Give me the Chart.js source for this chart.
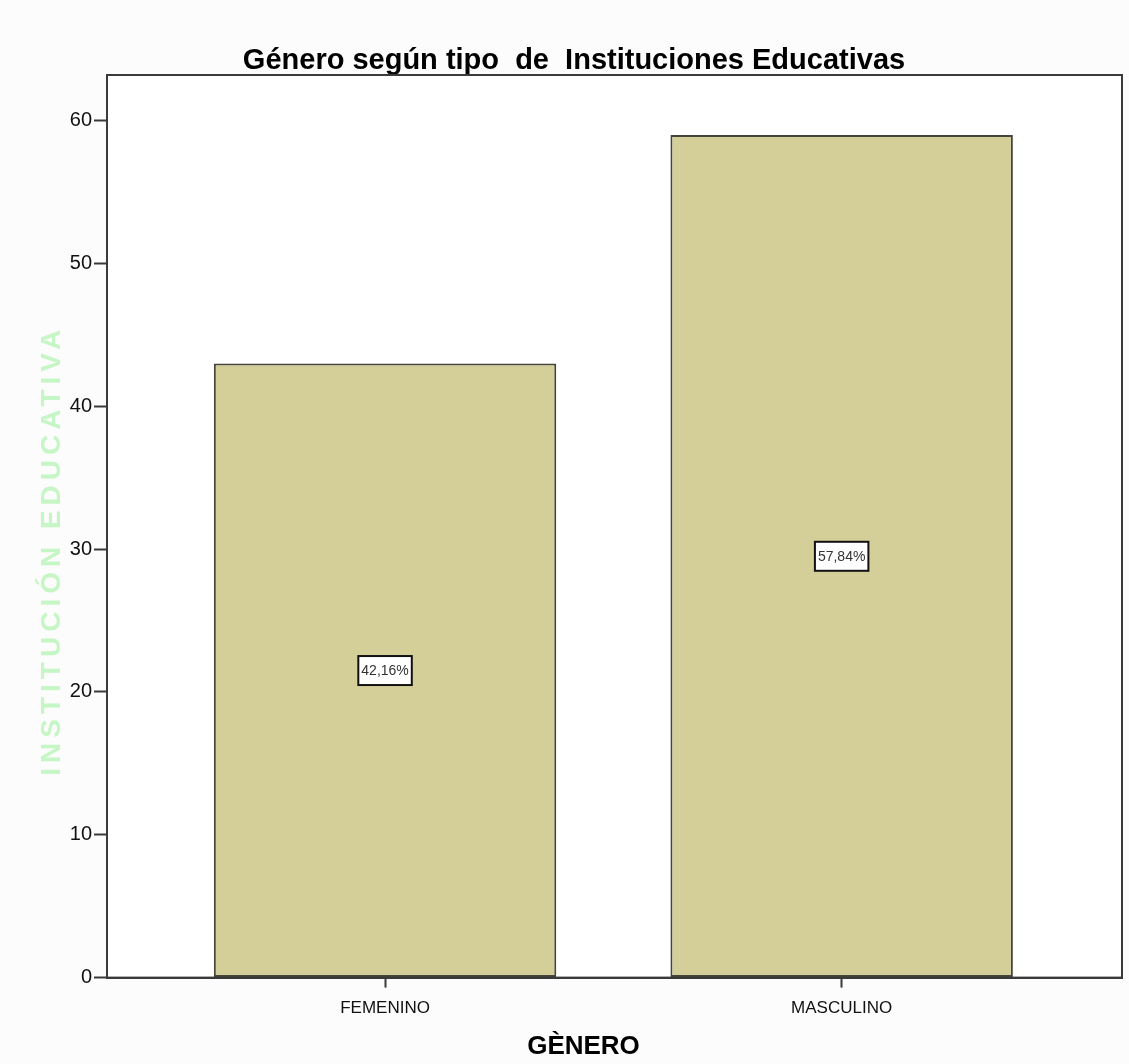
<!DOCTYPE html>
<html>
<head>
<meta charset="utf-8">
<script src="https://cdn.jsdelivr.net/npm/chart.js@4.4.0/dist/chart.umd.min.js"></script>
<style>
  html, body { margin: 0; padding: 0; background: #fcfcfc; }
  .chart-size { width: 1129px; height: 1064px; position: relative; }
</style>
</head>
<body>
<div class="chart-size"><canvas id="c"></canvas></div>
<script>
const categories = ['FEMENINO', 'MASCULINO'];
const counts = [43, 59];
const percentLabels = ['42,16%', '57,84%'];
const yTicks = [0, 10, 20, 30, 40, 50, 60];
const yTitle = 'INSTITUCIÓN EDUCATIVA';
const xTitle = 'GÈNERO';

const FONT = '"Liberation Sans", Arial, sans-serif';

// white plot area + box frame around it
const frameBox = {
  id: 'frameBox',
  beforeDatasetsDraw(chart) {
    const { ctx, chartArea: a } = chart;
    ctx.save();
    ctx.fillStyle = '#ffffff';
    ctx.fillRect(a.left, a.top, a.right - a.left, a.bottom - a.top);
    ctx.restore();
  },
  afterDatasetsDraw(chart) {
    const { ctx, chartArea: a } = chart;
    ctx.save();
    ctx.strokeStyle = '#3a3a3a';
    ctx.lineWidth = 2;
    ctx.strokeRect(a.left, a.top, a.right - a.left, a.bottom - a.top);
    ctx.restore();
  },
};

// axis titles drawn by hand: the y one is letter-spaced, the x one sits left of centre
const axisTitles = {
  id: 'axisTitles',
  afterDraw(chart) {
    const { ctx, chartArea: a } = chart;
    ctx.save();
    ctx.textAlign = 'center';
    ctx.textBaseline = 'middle';

    ctx.font = 'bold 26px ' + FONT;
    ctx.fillStyle = '#000';
    ctx.fillText(xTitle, (a.left + a.right) / 2 - 31, chart.height - 17);

    ctx.translate(52, (a.top + a.bottom) / 2 + 24);
    ctx.rotate(-Math.PI / 2);
    ctx.font = 'bold 28px ' + FONT;
    ctx.letterSpacing = '5px';
    ctx.fillStyle = '#c6f6c6';
    ctx.fillText(yTitle, 0, 0);
    ctx.restore();
  },
};

// percent boxes in the middle of each bar
const percentBoxes = {
  id: 'percentBoxes',
  afterDatasetsDraw(chart) {
    const { ctx } = chart;
    const meta = chart.getDatasetMeta(0);
    const y = chart.scales.y;
    ctx.save();
    ctx.font = '14px ' + FONT;
    ctx.textAlign = 'center';
    ctx.textBaseline = 'middle';
    meta.data.forEach((bar, i) => {
      const cy = y.getPixelForValue(counts[i] / 2);
      const w = ctx.measureText(percentLabels[i]).width + 6;
      const h = 29;
      ctx.fillStyle = '#ffffff';
      ctx.fillRect(bar.x - w / 2, cy - h / 2, w, h);
      ctx.strokeStyle = '#111';
      ctx.lineWidth = 2;
      ctx.strokeRect(bar.x - w / 2, cy - h / 2, w, h);
      ctx.fillStyle = '#333';
      ctx.fillText(percentLabels[i], bar.x, cy + 1);
    });
    ctx.restore();
  },
};

new Chart(document.getElementById('c').getContext('2d'), {
  type: 'bar',
  data: {
    datasets: [{
      data: counts.map((v, i) => ({ x: i, y: v })),
      backgroundColor: '#d4ce98',
      borderColor: '#45453a',
      borderWidth: 2,
      borderSkipped: false,
      barPercentage: 0.75,
      categoryPercentage: 1,
    }],
  },
  options: {
    responsive: true,
    maintainAspectRatio: false,
    animation: false,
    layout: { padding: { top: 46, right: 7, bottom: 34, left: 26 } },
    plugins: {
      legend: { display: false },
      tooltip: { enabled: false },
      title: {
        display: true,
        text: 'Género según tipo  de  Instituciones Educativas',
        color: '#000',
        font: { family: FONT, size: 29, weight: 'bold', lineHeight: 1 },
        padding: { top: 0, bottom: 0 },
      },
    },
    scales: {
      x: {
        type: 'linear',
        min: -0.609,
        max: 1.614,
        offset: false,
        afterBuildTicks(scale) {
          scale.ticks = categories.map((_, i) => ({ value: i }));
        },
        ticks: {
          callback: (v) => categories[v],
          color: '#111',
          font: { family: FONT, size: 17 },
          padding: 11,
          maxRotation: 0,
        },
        grid: {
          offset: false,
          drawOnChartArea: false,
          drawTicks: true,
          tickLength: 10,
          tickWidth: 2,
          tickColor: '#3a3a3a',
        },
        border: { display: true, color: '#3a3a3a', width: 2 },
      },
      y: {
        min: 0,
        max: 63.2,
        afterBuildTicks(scale) {
          scale.ticks = yTicks.map((v) => ({ value: v }));
        },
        afterFit(scale) {
          scale.width = 81;
        },
        ticks: {
          color: '#111',
          font: { family: FONT, size: 20 },
          padding: 2,
        },
        grid: {
          drawOnChartArea: false,
          drawTicks: true,
          tickLength: 13,
          tickWidth: 2,
          tickColor: '#3a3a3a',
        },
        border: { display: true, color: '#3a3a3a', width: 2 },
      },
    },
  },
  plugins: [frameBox, percentBoxes, axisTitles],
});
</script>
</body>
</html>
